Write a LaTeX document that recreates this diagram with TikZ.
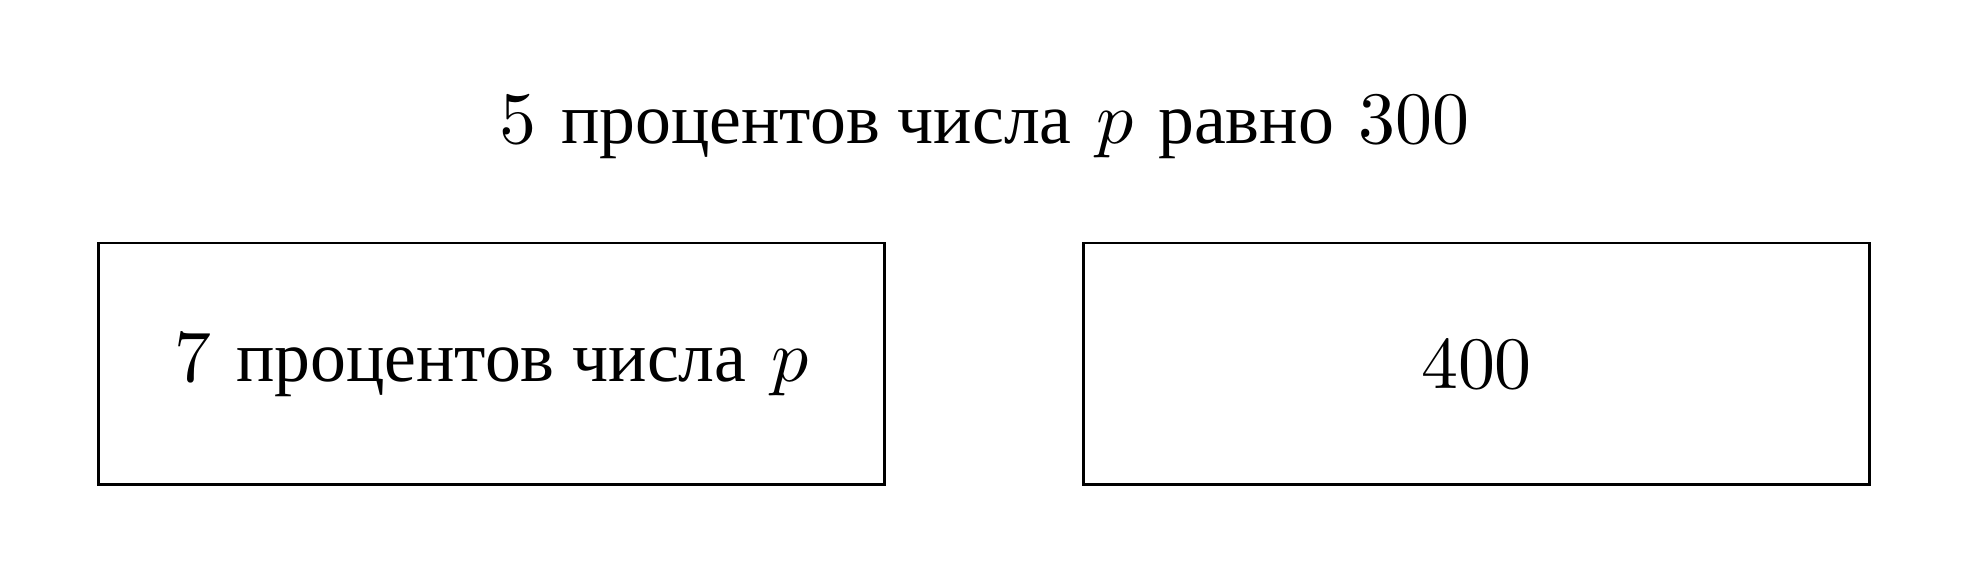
\documentclass[tikz,border=0pt]{standalone}
\usepackage{fontspec}
\newfontfamily\cyrfont[Scale=0.97]{Liberation Serif}
\newcommand{\ru}[1]{{\cyrfont #1}}

\begin{document}
\begin{tikzpicture}[
    box/.style={draw, rectangle, inner sep=0pt, minimum width=3.737cm, minimum height=1.149cm},
  ]
  \useasboundingbox (0,0) rectangle (9.363,2.782);

  % Statement
  \node[anchor=base] (stmt) at (4.682, 2.099) {5 \ru{процентов числа} $p$ \ru{равно} 300};

  % Boxes
  \node[box] (lhs) at (2.337, 1.052) {7 \ru{процентов числа} $p$};
  \node[box] (rhs) at (7.021, 1.052) {400};

\end{tikzpicture}
\end{document}
